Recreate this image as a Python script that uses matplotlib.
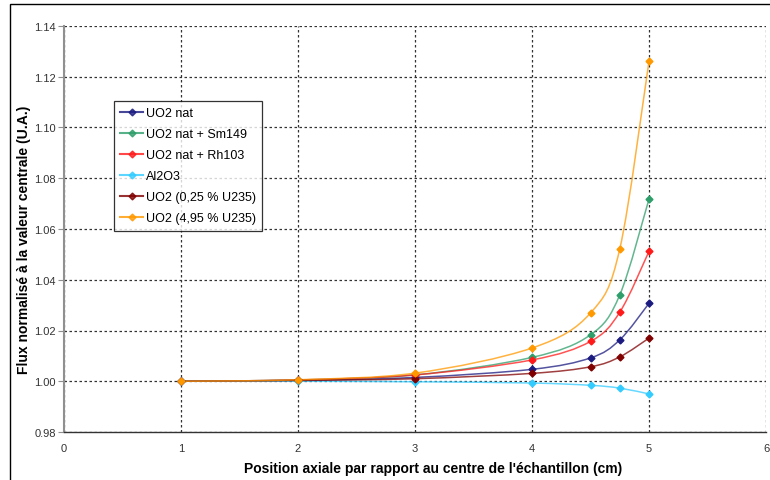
import matplotlib
matplotlib.use('Agg')
import matplotlib.pyplot as plt
from matplotlib.path import Path
from matplotlib.patches import PathPatch, Rectangle
from matplotlib.lines import Line2D

plt.rcParams['font.family'] = ['Liberation Sans', 'DejaVu Sans']

# Données
positions = [1, 2, 3, 4, 4.5, 4.75, 5]
uo2_nat = [1.0000, 1.0004, 1.0015, 1.0047, 1.0092, 1.0163, 1.0307]
uo2_sm149 = [1.0000, 1.0005, 1.0025, 1.0094, 1.0183, 1.0340, 1.0718]
uo2_rh103 = [1.0000, 1.0005, 1.0025, 1.0084, 1.0157, 1.0272, 1.0512]
al2o3 = [1.0000, 1.0000, 0.9998, 0.9993, 0.9984, 0.9973, 0.9950]
uo2_025 = [1.0000, 1.0003, 1.0010, 1.0031, 1.0057, 1.0096, 1.0170]
uo2_495 = [1.0000, 1.0006, 1.0032, 1.0131, 1.0269, 1.0521, 1.1261]

labels = ['UO2 nat', 'UO2 nat + Sm149', 'UO2 nat + Rh103', 'Al2O3',
          'UO2 (0,25 % U235)', 'UO2 (4,95 % U235)']
colors = ['#1a1a80', '#2e9e6a', '#ff1a1a', '#33ccff', '#800000', '#ff9900']
series = [uo2_nat, uo2_sm149, uo2_rh103, al2o3, uo2_025, uo2_495]


def smooth_path(xs, ys):
    # courbe lissée type Excel (Bezier / Catmull-Rom)
    pts = list(zip(xs, ys))
    verts = [pts[0]]
    codes = [Path.MOVETO]
    n = len(pts)
    for i in range(n - 1):
        p0 = pts[i - 1] if i > 0 else pts[i]
        p1 = pts[i]
        p2 = pts[i + 1]
        p3 = pts[i + 2] if i + 2 < n else pts[i + 1]
        c1 = (p1[0] + (p2[0] - p0[0]) / 6, p1[1] + (p2[1] - p0[1]) / 6)
        c2 = (p2[0] - (p3[0] - p1[0]) / 6, p2[1] - (p3[1] - p1[1]) / 6)
        verts += [c1, c2, p2]
        codes += [Path.CURVE4] * 3
    return Path(verts, codes)


fig = plt.figure(figsize=(7.7, 4.81), dpi=100)
ax = fig.add_axes([64 / 770, 1 - 433 / 481, (766 - 64) / 770, (433 - 27) / 481])

handles = []
for ys, col, lab in zip(series, colors, labels):
    patch = PathPatch(smooth_path(positions, ys), facecolor='none', edgecolor=col,
                      lw=1.1, alpha=0.75, zorder=3)
    ax.add_patch(patch)
    ax.plot(positions, ys, linestyle='none', marker='D', markersize=3.5,
            color=col, zorder=4)
    handles.append(Line2D([], [], color=col, lw=1.5, alpha=0.8, marker='D',
                          markersize=3.5, markerfacecolor=col, markeredgecolor=col))

ax.set_xlim(0, 6)
ax.set_ylim(0.98, 1.14)
ax.set_xticks(range(0, 7))
ax.set_yticks([0.98 + 0.02 * i for i in range(9)])
ax.set_yticklabels(['%.2f' % (0.98 + 0.02 * i) for i in range(9)])
ax.grid(True, color='#333333', linestyle=(0, (2, 2)), linewidth=0.9)
ax.set_axisbelow(True)

for s in ['top', 'right']:
    ax.spines[s].set_visible(False)
ax.spines['left'].set_color('#909090')
ax.spines['left'].set_linewidth(1.5)
ax.spines['bottom'].set_color('#333333')
ax.spines['bottom'].set_linewidth(1.0)
ax.tick_params(axis='y', length=4, color='#909090', labelsize=8, labelcolor='#333333', pad=2)
ax.tick_params(axis='x', length=0, labelsize=8, labelcolor='#333333', pad=8)

ax.set_xlabel("Position axiale par rapport au centre de l'échantillon (cm)",
              fontsize=10, fontweight='bold')
ax.xaxis.set_label_coords(0.526, -0.071)
ax.set_ylabel('Flux normalisé à la valeur centrale (U.A.)',
              fontsize=10, fontweight='bold')
ax.yaxis.set_label_coords(-0.047, 0.475)

leg = ax.legend(handles, labels, loc='upper left', bbox_to_anchor=(50 / 702, 1 - 75 / 406),
                fontsize=9, frameon=True, fancybox=False, edgecolor='black',
                borderpad=0.5, labelspacing=0.72, handlelength=1.8, handletextpad=0.25,
                borderaxespad=0)
leg.get_frame().set_linewidth(0.9)

# cadre de la zone graphique
fig.patches.append(Rectangle((10 / 770, -0.01), 1.0, 1 - 5 / 481 + 0.01,
                             transform=fig.transFigure, fill=False,
                             edgecolor='black', lw=1.0))

fig.savefig('out.png', dpi=100)
